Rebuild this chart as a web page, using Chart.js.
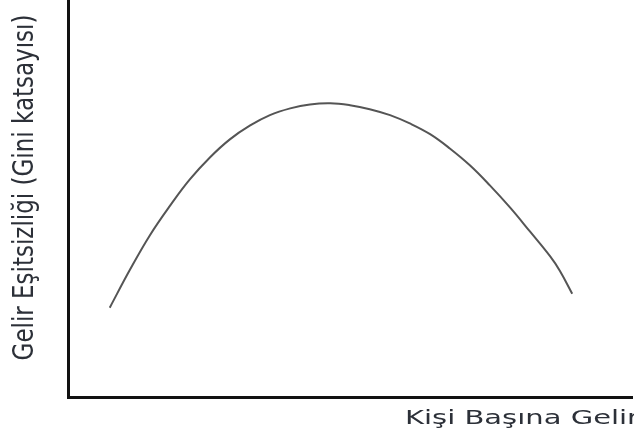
<!DOCTYPE html>
<html>
<head>
<meta charset="utf-8">
<script src="https://cdn.jsdelivr.net/npm/chart.js@4.4.1/dist/chart.umd.min.js"></script>
<style>
    html, body { margin: 0; padding: 0; background: #fff; overflow: hidden; }
    #wrap { width: 634px; height: 438px; }
</style>
</head>
<body>
<div id="wrap"><canvas id="kuznets"></canvas></div>
<script>
// Kuznets curve, values (arbitrary 0-100 units)
const incomeX = [7.4, 11.0, 14.5, 18.1, 21.6, 25.2, 28.7, 32.3, 35.8, 39.4, 42.9, 46.5,
                 50.0, 53.5, 57.1, 60.6, 64.2, 67.7, 71.3, 74.8, 78.4, 81.9, 85.5, 87.2, 89.4];
const giniY = [22.5, 32.1, 40.7, 48.2, 54.8, 60.4, 64.9, 68.4, 71.0, 72.7, 73.7, 74.0,
               73.5, 72.5, 71.0, 68.9, 66.2, 62.6, 58.3, 53.3, 47.7, 41.7, 35.4, 31.8, 26.0];

const xTitle = 'Kişi Başına Gelir';
const yTitle = 'Gelir Eşitsizliği (Gini katsayısı)';

const points = incomeX.map((x, i) => ({ x: x, y: giniY[i] }));

// the scanned figure is stretched sideways, so the titles are drawn by hand with a wider scale
const axisTitles = {
    id: 'axisTitles',
    afterDraw(chart) {
        const ctx = chart.ctx;
        const area = chart.chartArea;
        ctx.save();
        ctx.fillStyle = '#2c3038';
        ctx.textBaseline = 'middle';

        // x title: starts under the right part of the axis and runs off the edge
        ctx.save();
        ctx.translate(area.right - 227, area.bottom + 22);
        ctx.scale(1.45, 1);
        ctx.font = '20px "DejaVu Sans", Verdana, sans-serif';
        ctx.textAlign = 'left';
        ctx.fillText(xTitle, 0, 0);
        ctx.restore();

        // y title: rotated, left of the axis
        ctx.save();
        ctx.translate(area.left - 42, area.top + (area.bottom - area.top) / 2 - 11);
        ctx.scale(1.2, 1);
        ctx.rotate(-Math.PI / 2);
        ctx.font = '23px "DejaVu Sans", Verdana, sans-serif';
        ctx.textAlign = 'center';
        ctx.fillText(yTitle, 0, 0);
        ctx.restore();

        ctx.restore();
    }
};

new Chart(document.getElementById('kuznets'), {
    type: 'line',
    data: {
        datasets: [{
            data: points,
            borderColor: '#555555',
            borderWidth: 2,
            pointRadius: 0,
            fill: false,
            tension: 0.4
        }]
    },
    options: {
        responsive: true,
        maintainAspectRatio: false,
        animation: false,
        layout: { padding: { left: 60, right: 2, top: 0, bottom: 33 } },
        plugins: {
            legend: { display: false },
            tooltip: { enabled: false }
        },
        scales: {
            x: {
                type: 'linear',
                min: 0,
                max: 100,
                grid: { display: false },
                ticks: { display: false },
                border: { display: true, color: '#111', width: 3 }
            },
            y: {
                min: 0,
                max: 100,
                grid: { display: false },
                ticks: { display: false },
                border: { display: true, color: '#111', width: 3 }
            }
        }
    },
    plugins: [axisTitles]
});
</script>
</body>
</html>
